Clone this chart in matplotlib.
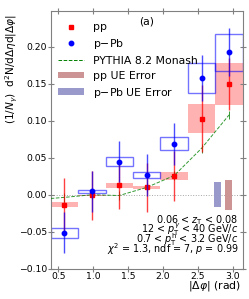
import numpy as np
import matplotlib
matplotlib.use("Agg")
import matplotlib.pyplot as plt
from matplotlib.patches import Rectangle, Patch
from matplotlib.lines import Line2D

# bin centres in |dphi| (bins of pi/8)
bin_x = [0.589, 0.982, 1.374, 1.767, 2.160, 2.553, 2.945]
bin_w = 0.3927

# pp
pp_y = [-0.0134, -0.0007, 0.0128, 0.0101, 0.0259, 0.103, 0.150]
pp_stat = [0.036, 0.033, 0.032, 0.033, 0.034, 0.045, 0.035]
pp_sys = [0.003, 0.001, 0.0036, 0.0023, 0.0054, 0.0194, 0.028]

# p-Pb
ppb_y = [-0.0513, 0.0047, 0.0448, 0.0268, 0.0691, 0.1576, 0.193]
ppb_stat = [0.028, 0.028, 0.028, 0.028, 0.0285, 0.031, 0.032]
ppb_sys = [0.007, 0.002, 0.006, 0.004, 0.0086, 0.0203, 0.025]

# PYTHIA 8.2 Monash
py_x = [0.393, 0.589, 0.982, 1.374, 1.767, 2.160, 2.553, 2.945]
py_y = [-0.005, -0.0035, 0.0, -0.001, 0.010, 0.026, 0.063, 0.108]
py_err = [0.0, 0.006, 0.006, 0.006, 0.006, 0.006, 0.006, 0.006]

# underlying event errors (drawn at the right edge)
ue_x = [2.78, 2.94]
ue_err = [0.0167, 0.020]
ue_colors = [(0.6, 0.6, 0.8), (0.8, 0.58, 0.58)]

fs = 6.7
fig = plt.figure(figsize=(2.49, 2.99), dpi=100)
ax = fig.add_axes([0.2036, 0.1013, 0.7715, 0.8629])

ax.axhline(0, color="gray", ls=":", lw=0.7, alpha=0.7, zorder=0)

# systematic boxes
for x, y, s in zip(bin_x, pp_y, pp_sys):
    ax.add_patch(Rectangle((x - bin_w / 2, y - s), bin_w, 2 * s,
                           facecolor="red", alpha=0.3, edgecolor="none", zorder=1))
for x, y, s in zip(bin_x, ppb_y, ppb_sys):
    ax.add_patch(Rectangle((x - bin_w / 2, y - s), bin_w, 2 * s,
                           fill=False, edgecolor="blue", alpha=0.55, lw=1.0, zorder=2))

# UE error bars
for x, e, c in zip(ue_x, ue_err, ue_colors):
    ax.bar(x, 2 * e, bottom=-e, width=0.1, color=c, zorder=1)

ax.errorbar(py_x, py_y, yerr=py_err, color="green", ls="--", lw=0.7,
            elinewidth=0.7, capsize=0, alpha=0.8, zorder=3)
ax.errorbar(bin_x, pp_y, yerr=pp_stat, fmt="s", color="red", ms=3.2,
            elinewidth=1.0, capsize=0, ecolor=(1, 0, 0, 0.75), zorder=4)
ax.errorbar(bin_x, ppb_y, yerr=ppb_stat, fmt="o", color="blue", ms=3.2,
            elinewidth=1.0, capsize=0, ecolor=(0, 0, 1, 0.7), zorder=5)

ax.set_xlim(0.393, 3.1416)
ax.set_ylim(-0.10, 0.249)
ax.set_xticks([0.5, 1.0, 1.5, 2.0, 2.5, 3.0])
ax.set_yticks([-0.10, -0.05, 0.00, 0.05, 0.10, 0.15, 0.20])
ax.tick_params(direction="inout", length=4, width=0.8, labelsize=fs, pad=0.5,
               top=True, right=True, color="gray")
for sp in ax.spines.values():
    sp.set_color("gray")
    sp.set_linewidth(0.8)

ax.set_xlabel(r"$|\Delta\varphi|$ (rad)", fontsize=7.8, loc="right")
ax.xaxis.set_label_coords(0.99, -0.04)
ax.set_ylabel(r"$(1/N_{\gamma})$  d$^2$N/d$\Delta\eta$d$|\Delta\varphi|$",
              fontsize=7.6, loc="top")
ax.yaxis.set_label_coords(-0.16, 0.985)

ax.text(0.5, 0.957, "(a)", transform=ax.transAxes, fontsize=7.8,
        ha="center", va="center")

handles = [
    Line2D([], [], marker="s", color="red", ls="none", ms=3.2),
    Line2D([], [], marker="o", color="blue", ls="none", ms=3.2),
    Line2D([], [], color="green", ls="--", lw=0.7),
    Patch(facecolor=ue_colors[1]),
    Patch(facecolor=ue_colors[0]),
]
labels = ["pp", "p$-$Pb", "PYTHIA 8.2 Monash", "pp UE Error", "p$-$Pb UE Error"]
ax.legend(handles, labels, loc="upper left", bbox_to_anchor=(0.0, 0.985),
          frameon=False, fontsize=7.8, handlelength=2.4, handleheight=0.6,
          labelspacing=0.45, borderpad=0.2, handletextpad=0.8)

info = [
    (0.176, r"0.06 < $z_{\rm T}$ < 0.08"),
    (0.137, r"12 < $p_{\rm T}^{\gamma}$ < 40 GeV/$c$"),
    (0.100, r"0.7 < $p_{\rm T}^{\rm h}$ < 3.2 GeV/$c$"),
    (0.061, r"$\chi^2$ = 1.3, ndf = 7, $p$ = 0.99"),
]
for yy, t in info:
    ax.text(0.977, yy, t, transform=ax.transAxes, fontsize=6.9,
            ha="right", va="baseline")

fig.savefig("out.png", dpi=100)
